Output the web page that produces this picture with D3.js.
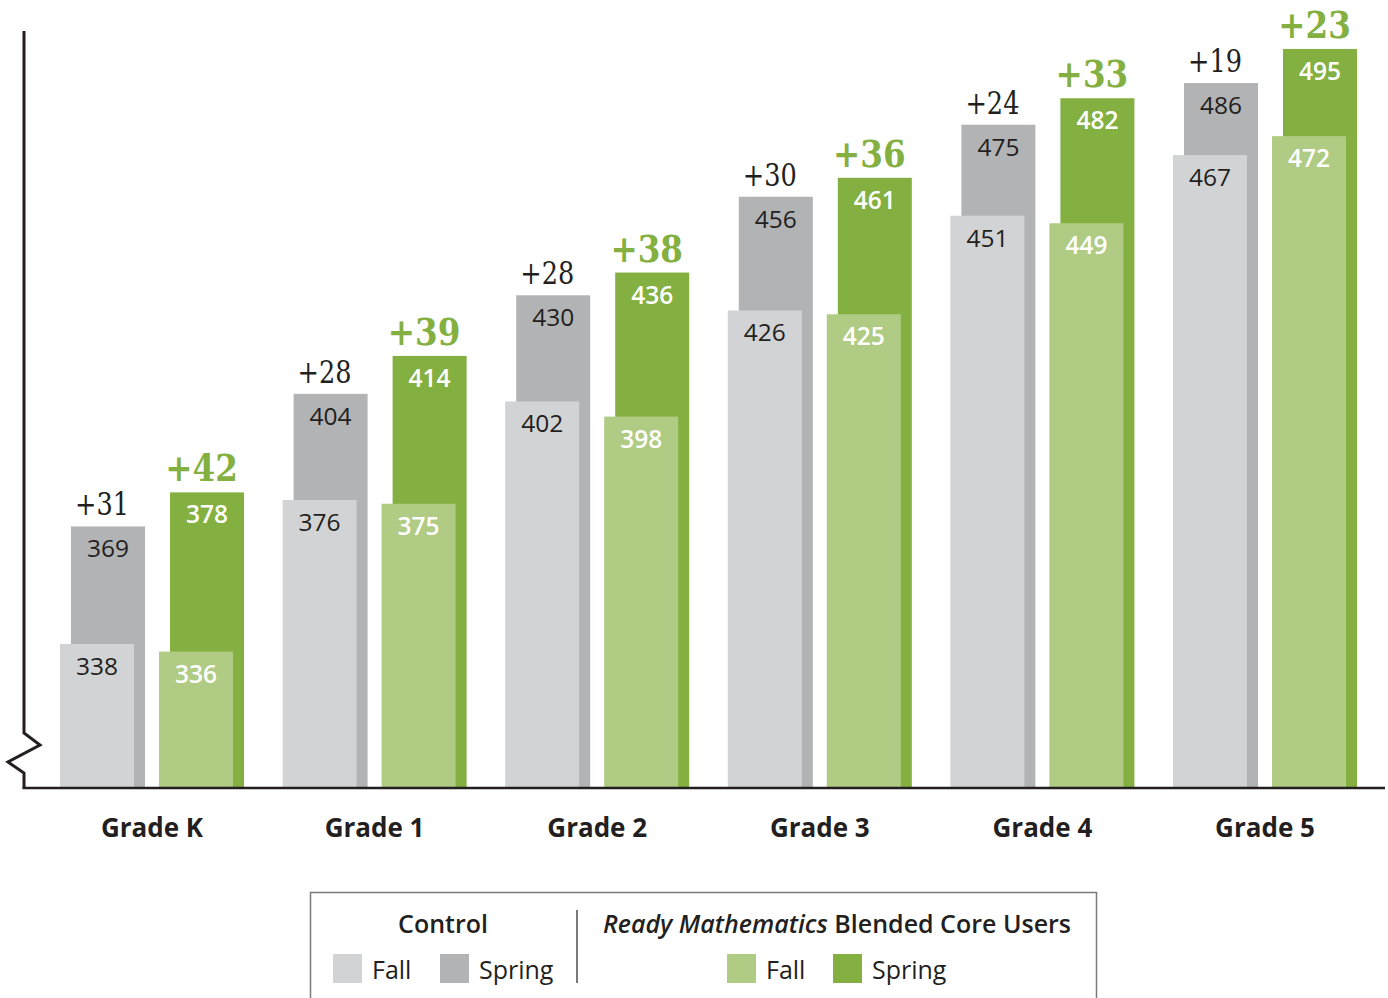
<!DOCTYPE html>
<html>
<head>
<meta charset="utf-8">
<script src="https://cdn.jsdelivr.net/npm/d3@7"></script>
<style>
  html, body { margin: 0; padding: 0; background: #fff; }
  svg { display: block; }
</style>
</head>
<body>
<svg id="chart" width="1388" height="998"></svg>
<script>
// Scale scores by grade: fall and spring, control vs. program users
const grades = ["Grade K", "Grade 1", "Grade 2", "Grade 3", "Grade 4", "Grade 5"];
const controlFall   = [338, 376, 402, 426, 451, 467];
const controlSpring = [369, 404, 430, 456, 475, 486];
const readyFall     = [336, 375, 398, 425, 449, 472];
const readySpring   = [378, 414, 436, 461, 482, 495];
const controlGain   = ["+31", "+28", "+28", "+30", "+24", "+19"];
const readyGain     = ["+42", "+39", "+38", "+36", "+33", "+23"];
const yDomain = [300, 500];

const colors = {
  controlFall: "#d1d3d4",
  controlSpring: "#b2b3b5",
  readyFall: "#b0cb83",
  readySpring: "#84b041",
  ink: "#231f20"
};

const svg = d3.select("#chart");
const sans = "'Open Sans', 'Noto Sans', sans-serif";
const slab = "'DejaVu Serif', serif";

const x = d3.scaleBand().domain(grades).range([40.7, 1376.3]).padding(0);
const y = d3.scaleLinear().domain(yDomain).range([788, 30]);
const barW = 74;

// offsets of each bar from the centre of its grade band
const parts = [
  { key: "controlSpring", vals: controlSpring, dx: -81, fill: colors.controlSpring },
  { key: "controlFall",   vals: controlFall,   dx: -92, fill: colors.controlFall },
  { key: "readySpring",   vals: readySpring,   dx: 18,  fill: colors.readySpring },
  { key: "readyFall",     vals: readyFall,     dx: 7,   fill: colors.readyFall }
];
const cx = g => x(g) + x.bandwidth() / 2;

const bars = svg.append("g");
parts.forEach(p => {
  bars.selectAll("rect." + p.key)
    .data(grades.map((g, i) => ({ g, v: p.vals[i] })))
    .enter().append("rect")
    .attr("class", p.key)
    .attr("x", d => cx(d.g) + p.dx)
    .attr("y", d => y(d.v))
    .attr("width", barW)
    .attr("height", d => y(yDomain[0]) - y(d.v))
    .attr("fill", p.fill);
});

// value labels inside the bars
const labelDefs = [
  { vals: controlSpring, dx: -81, fill: colors.ink, weight: 400 },
  { vals: controlFall,   dx: -92, fill: colors.ink, weight: 400 },
  { vals: readySpring,   dx: 18,  fill: "#ffffff", weight: 600 },
  { vals: readyFall,     dx: 7,   fill: "#ffffff", weight: 600 }
];
labelDefs.forEach(l => {
  svg.append("g").selectAll("text")
    .data(grades.map((g, i) => ({ g, v: l.vals[i] })))
    .enter().append("text")
    .attr("x", d => cx(d.g) + l.dx + barW / 2)
    .attr("y", d => y(d.v) + 31)
    .attr("text-anchor", "middle")
    .attr("font-family", sans)
    .attr("font-size", 24.5)
    .attr("font-weight", l.weight)
    .attr("fill", l.fill)
    .text(d => d.v);
});

// gain labels above each pair (slab serif, narrowed horizontally)
svg.append("g").selectAll("text")
  .data(grades.map((g, i) => ({ g, v: controlSpring[i], t: controlGain[i] })))
  .enter().append("text")
  .attr("transform", d => `translate(${cx(d.g) - 50},${y(d.v) - 11}) scale(0.8,1)`)
  .attr("text-anchor", "middle")
  .attr("font-family", slab)
  .attr("font-size", 32)
  .attr("fill", colors.ink)
  .text(d => d.t);

svg.append("g").selectAll("text")
  .data(grades.map((g, i) => ({ g, v: readySpring[i], t: readyGain[i] })))
  .enter().append("text")
  .attr("transform", d => `translate(${cx(d.g) + 49.5},${y(d.v) - 11}) scale(0.88,1)`)
  .attr("text-anchor", "middle")
  .attr("font-family", slab)
  .attr("font-weight", 700)
  .attr("font-size", 37)
  .attr("fill", colors.readySpring)
  .text(d => d.t);

// axes: vertical line with a break mark, and the baseline
const base = y(yDomain[0]);
svg.append("path")
  .attr("d", d3.line()([[24, y(yDomain[1]) + 1], [24, 733], [40, 745], [8, 762], [24, 773], [24, base]]))
  .attr("fill", "none")
  .attr("stroke", colors.ink)
  .attr("stroke-width", 3)
  .attr("stroke-linejoin", "miter");

svg.append("line")
  .attr("x1", 22.5).attr("x2", 1385)
  .attr("y1", base).attr("y2", base)
  .attr("stroke", colors.ink)
  .attr("stroke-width", 2.5);

// category axis labels
const xAxis = d3.axisBottom(x).tickSize(0).tickPadding(0);
const gx = svg.append("g").attr("transform", `translate(0, ${base})`).call(xAxis);
gx.select(".domain").remove();
gx.selectAll("text")
  .attr("y", 49)
  .attr("dy", 0)
  .attr("font-family", sans)
  .attr("font-size", 26)
  .attr("font-weight", 700)
  .attr("fill", colors.ink);

// legend
const legend = svg.append("g");
legend.append("rect")
  .attr("x", 310.5).attr("y", 892.5)
  .attr("width", 786).attr("height", 140)
  .attr("fill", "none")
  .attr("stroke", "#7a7a7a")
  .attr("stroke-width", 1.5);
legend.append("line")
  .attr("x1", 577).attr("x2", 577)
  .attr("y1", 910).attr("y2", 983)
  .attr("stroke", colors.ink).attr("stroke-width", 1.2);

legend.append("text")
  .attr("x", 443).attr("y", 933)
  .attr("text-anchor", "middle")
  .attr("font-family", sans).attr("font-size", 25).attr("font-weight", 600)
  .attr("fill", colors.ink)
  .text("Control");

const groupTitle = legend.append("text")
  .attr("x", 837).attr("y", 933)
  .attr("text-anchor", "middle")
  .attr("font-family", sans).attr("font-size", 25).attr("font-weight", 600)
  .attr("fill", colors.ink);
groupTitle.append("tspan").attr("font-style", "italic").text("Ready Mathematics");
groupTitle.append("tspan").text(" Blended Core Users");

const legendItems = [
  { label: "Fall",   fill: colors.controlFall,   x: 333 },
  { label: "Spring", fill: colors.controlSpring, x: 440 },
  { label: "Fall",   fill: colors.readyFall,     x: 727 },
  { label: "Spring", fill: colors.readySpring,   x: 833 }
];
const li = legend.selectAll("g.item").data(legendItems).enter().append("g").attr("class", "item");
li.append("rect")
  .attr("x", d => d.x).attr("y", 954)
  .attr("width", 29).attr("height", 29)
  .attr("fill", d => d.fill);
li.append("text")
  .attr("x", d => d.x + 39).attr("y", 979)
  .attr("font-family", sans).attr("font-size", 25)
  .attr("fill", colors.ink)
  .text(d => d.label);
</script>
</body>
</html>
